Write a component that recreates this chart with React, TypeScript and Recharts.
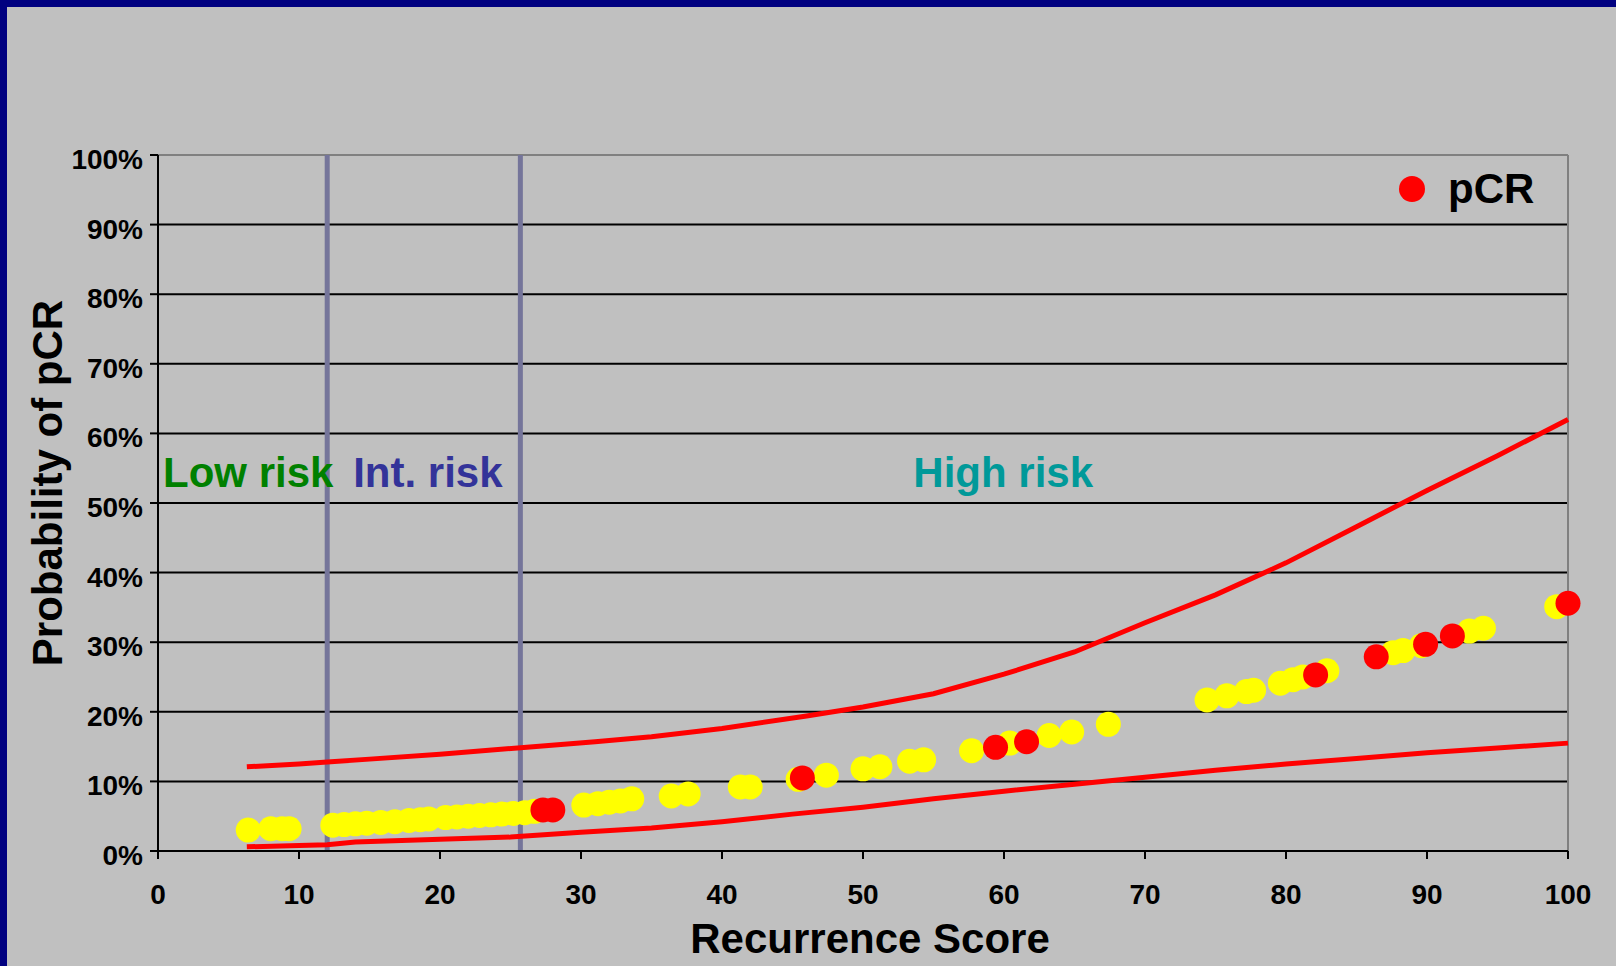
import React from "react";
import {
  ScatterChart,
  Scatter,
  XAxis,
  YAxis,
  CartesianGrid,
  ReferenceLine,
  ReferenceArea,
  Legend,
  Label,
} from "recharts";

const FONT = '"Liberation Sans", Arial, Helvetica, sans-serif';

const xTicks = [0, 10, 20, 30, 40, 50, 60, 70, 80, 90, 100];
const yTicks = [0, 10, 20, 30, 40, 50, 60, 70, 80, 90, 100];

// risk group cut-offs on the recurrence score
const riskCutoffs = [12, 25.7];

// 95% band around the fitted probability
const upperBand = [
  { x: 6.3, y: 12.1 }, { x: 10, y: 12.5 }, { x: 12, y: 12.8 }, { x: 15, y: 13.2 },
  { x: 20, y: 13.9 }, { x: 25.5, y: 14.8 }, { x: 31, y: 15.7 }, { x: 35, y: 16.4 },
  { x: 40, y: 17.6 }, { x: 46, y: 19.4 }, { x: 50, y: 20.7 }, { x: 55, y: 22.6 },
  { x: 60, y: 25.4 }, { x: 65, y: 28.6 }, { x: 70, y: 32.8 }, { x: 75, y: 36.8 },
  { x: 80, y: 41.4 }, { x: 85, y: 46.6 }, { x: 90, y: 51.8 }, { x: 95, y: 56.8 },
  { x: 100, y: 62 },
];

const lowerBand = [
  { x: 6.3, y: 0.6 }, { x: 10, y: 0.8 }, { x: 12, y: 0.9 }, { x: 14, y: 1.3 },
  { x: 20, y: 1.7 }, { x: 25, y: 2.0 }, { x: 30, y: 2.7 }, { x: 35, y: 3.3 },
  { x: 40, y: 4.2 }, { x: 45, y: 5.3 }, { x: 50, y: 6.3 }, { x: 55, y: 7.5 },
  { x: 60, y: 8.6 }, { x: 65, y: 9.6 }, { x: 70, y: 10.6 }, { x: 75, y: 11.6 },
  { x: 80, y: 12.5 }, { x: 85, y: 13.3 }, { x: 90, y: 14.1 }, { x: 95, y: 14.8 },
  { x: 100, y: 15.5 },
];

// patients without pCR
const noPcr = [
  { x: 6.4, y: 3.0 }, { x: 8.0, y: 3.2 }, { x: 8.8, y: 3.2 }, { x: 9.3, y: 3.2 },
  { x: 12.4, y: 3.7 }, { x: 13.2, y: 3.8 }, { x: 14.0, y: 3.9 }, { x: 14.8, y: 4.0 },
  { x: 15.8, y: 4.1 }, { x: 16.8, y: 4.2 }, { x: 17.8, y: 4.4 }, { x: 18.6, y: 4.5 },
  { x: 19.2, y: 4.6 }, { x: 20.4, y: 4.8 }, { x: 21.2, y: 4.9 }, { x: 22.0, y: 5.0 },
  { x: 22.8, y: 5.1 }, { x: 23.6, y: 5.2 }, { x: 24.4, y: 5.3 }, { x: 25.2, y: 5.4 },
  { x: 26.0, y: 5.5 }, { x: 26.7, y: 5.7 },
  { x: 30.2, y: 6.6 }, { x: 31.2, y: 6.8 }, { x: 32.0, y: 7.0 }, { x: 32.8, y: 7.2 },
  { x: 33.6, y: 7.5 }, { x: 36.4, y: 7.9 }, { x: 37.6, y: 8.2 },
  { x: 41.3, y: 9.2 }, { x: 42.0, y: 9.2 }, { x: 45.4, y: 10.3 }, { x: 47.4, y: 10.9 },
  { x: 50.0, y: 11.8 }, { x: 51.2, y: 12.1 }, { x: 53.3, y: 12.9 }, { x: 54.3, y: 13.1 },
  { x: 57.7, y: 14.4 }, { x: 60.4, y: 15.5 }, { x: 63.2, y: 16.6 }, { x: 64.8, y: 17.1 },
  { x: 67.4, y: 18.2 },
  { x: 74.4, y: 21.7 }, { x: 75.8, y: 22.3 }, { x: 77.2, y: 22.9 }, { x: 77.7, y: 23.1 },
  { x: 79.6, y: 24.1 }, { x: 80.5, y: 24.6 }, { x: 81.2, y: 25.0 }, { x: 82.9, y: 25.9 },
  { x: 87.6, y: 28.5 }, { x: 88.3, y: 28.8 }, { x: 89.6, y: 29.5 },
  { x: 93.0, y: 31.6 }, { x: 94.0, y: 32.0 }, { x: 99.2, y: 35.1 },
];

// patients with pCR
const pcr = [
  { x: 27.3, y: 5.9 }, { x: 28.0, y: 5.9 }, { x: 45.7, y: 10.5 }, { x: 59.4, y: 14.9 },
  { x: 61.6, y: 15.7 }, { x: 82.1, y: 25.3 }, { x: 86.4, y: 27.9 }, { x: 89.9, y: 29.7 },
  { x: 91.8, y: 30.9 }, { x: 100, y: 35.6 },
];

const riskLabels = [
  { text: "Low risk", x1: 0, x2: riskCutoffs[0], offset: 5, color: "#008000" },
  { text: "Int. risk", x1: riskCutoffs[0], x2: riskCutoffs[1], offset: 26, color: "#333399" },
  { text: "High risk", x1: riskCutoffs[1], x2: 100, offset: 393, color: "#009999" },
];

const dotShape = (color: string) => (props: any) =>
  <circle cx={props.cx} cy={props.cy} r={12.5} fill={color} />;

const noShape = () => <g />;

const tickStyle = { fill: "#000", fontSize: 28, fontWeight: 700, fontFamily: FONT };

const renderXTitle = (props: any) => {
  const vb = props.viewBox;
  return (
    <text x={vb.x + vb.width / 2 + 7} y={vb.y + 102} textAnchor="middle"
      fontSize={42} fontWeight={700} fontFamily={FONT} fill="#000">
      Recurrence Score
    </text>
  );
};

const renderYTitle = (props: any) => {
  const vb = props.viewBox;
  return (
    <text transform={`translate(62, ${vb.y + vb.height / 2 - 20}) rotate(-90)`} textAnchor="middle"
      fontSize={42} fontWeight={700} fontFamily={FONT} fill="#000">
      Probability of pCR
    </text>
  );
};

const renderLegend = () => (
  <svg width={160} height={60}>
    <circle cx={22} cy={29} r={13} fill="#FF0000" />
    <text x={58} y={43} fontSize={42} fontWeight={700} fontFamily={FONT} fill="#000">pCR</text>
  </svg>
);

export default function App() {
  return (
    <div
      style={{
        position: "absolute",
        left: 0,
        top: 0,
        width: 1616,
        height: 966,
        background: "#C0C0C0",
        overflow: "hidden",
      }}
    >
      <div style={{ position: "absolute", left: 0, top: 0, width: 1616, height: 7, background: "#000080" }} />
      <div style={{ position: "absolute", left: 0, top: 0, width: 7, height: 966, background: "#000080" }} />
      <div style={{ position: "absolute", left: 0, top: 0 }}>
        <ScatterChart width={1616} height={966} margin={{ top: 155, right: 48, bottom: 0, left: 0 }}>
          <CartesianGrid horizontal vertical={false} stroke="#000" strokeWidth={2} />
          <XAxis
            type="number"
            dataKey="x"
            domain={[0, 100]}
            ticks={xTicks}
            interval={0}
            height={115}
            tickSize={8}
            tickMargin={25}
            axisLine={{ stroke: "#000", strokeWidth: 2 }}
            tickLine={{ stroke: "#000", strokeWidth: 2 }}
            tick={tickStyle}
          >
            <Label content={renderXTitle} />
          </XAxis>
          <YAxis
            type="number"
            dataKey="y"
            domain={[0, 100]}
            ticks={yTicks}
            interval={0}
            width={158}
            tickSize={8}
            tickMargin={7}
            tickFormatter={(v: number) => `${v}%`}
            axisLine={{ stroke: "#000", strokeWidth: 2 }}
            tickLine={{ stroke: "#000", strokeWidth: 2 }}
            tick={{ ...tickStyle, dy: 4 }}
          >
            <Label content={renderYTitle} />
          </YAxis>
          <Legend
            layout="horizontal"
            verticalAlign="middle"
            align="center"
            content={renderLegend}
            wrapperStyle={{ position: "absolute", left: 1390, top: 160, width: 160, height: 60 }}
          />
          <ReferenceLine y={100} stroke="#808080" strokeWidth={2} />
          <ReferenceLine x={100} stroke="#808080" strokeWidth={2} />
          {riskLabels.map((r) => (
            <ReferenceArea
              key={r.text}
              x1={r.x1}
              x2={r.x2}
              y1={50}
              y2={59}
              fill="none"
              stroke="none"
              ifOverflow="visible"
              label={{
                value: r.text,
                position: "insideLeft",
                offset: r.offset,
                fill: r.color,
                fontSize: 42,
                fontWeight: 700,
                fontFamily: FONT,
              }}
            />
          ))}
          <Scatter data={upperBand} shape={noShape} line={{ stroke: "#FF0000", strokeWidth: 5 }}
            lineType="joint" isAnimationActive={false} legendType="none" />
          <Scatter data={lowerBand} shape={noShape} line={{ stroke: "#FF0000", strokeWidth: 5 }}
            lineType="joint" isAnimationActive={false} legendType="none" />
          <Scatter data={noPcr} shape={dotShape("#FFFF00")} isAnimationActive={false} />
          <Scatter data={pcr} shape={dotShape("#FF0000")} isAnimationActive={false} name="pCR" />
          {riskCutoffs.map((c) => (
            <ReferenceLine key={c} x={c} stroke="#75759A" strokeWidth={5} />
          ))}
        </ScatterChart>
      </div>
    </div>
  );
}
